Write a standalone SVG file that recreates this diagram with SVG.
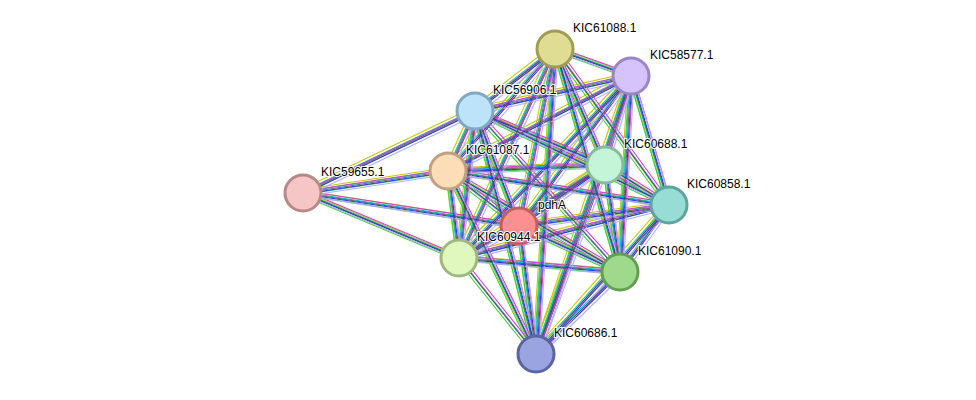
<svg xmlns="http://www.w3.org/2000/svg" xmlns:xlink="http://www.w3.org/1999/xlink" width="976" height="400" viewBox="0 0 976 400">
<style>
.n circle{stroke-width:3}
.n text{font-family:"Liberation Sans",Arial,sans-serif;font-size:12px;fill:#000;stroke:#fff;stroke-width:2px;paint-order:stroke}
</style>
<defs>
<g id="E" fill="none">
<line x1="555" y1="49" x2="631" y2="76"/><line x1="555" y1="49" x2="475" y2="111"/><line x1="555" y1="49" x2="605" y2="165"/><line x1="555" y1="49" x2="448" y2="171"/><line x1="555" y1="49" x2="669" y2="205"/><line x1="555" y1="49" x2="519" y2="226"/><line x1="555" y1="49" x2="459" y2="258"/><line x1="555" y1="49" x2="620" y2="272"/><line x1="555" y1="49" x2="536" y2="354"/>
<line x1="631" y1="76" x2="475" y2="111"/><line x1="631" y1="76" x2="605" y2="165"/><line x1="631" y1="76" x2="448" y2="171"/><line x1="631" y1="76" x2="669" y2="205"/><line x1="631" y1="76" x2="519" y2="226"/><line x1="631" y1="76" x2="459" y2="258"/><line x1="631" y1="76" x2="620" y2="272"/><line x1="631" y1="76" x2="536" y2="354"/>
<line x1="475" y1="111" x2="605" y2="165"/><line x1="475" y1="111" x2="448" y2="171"/><line x1="475" y1="111" x2="669" y2="205"/><line x1="475" y1="111" x2="519" y2="226"/><line x1="475" y1="111" x2="459" y2="258"/><line x1="475" y1="111" x2="620" y2="272"/><line x1="475" y1="111" x2="536" y2="354"/><line x1="475" y1="111" x2="303" y2="193"/>
<line x1="605" y1="165" x2="448" y2="171"/><line x1="605" y1="165" x2="669" y2="205"/><line x1="605" y1="165" x2="519" y2="226"/><line x1="605" y1="165" x2="459" y2="258"/><line x1="605" y1="165" x2="620" y2="272"/><line x1="605" y1="165" x2="536" y2="354"/>
<line x1="448" y1="171" x2="669" y2="205"/><line x1="448" y1="171" x2="519" y2="226"/><line x1="448" y1="171" x2="459" y2="258"/><line x1="448" y1="171" x2="620" y2="272"/><line x1="448" y1="171" x2="536" y2="354"/><line x1="448" y1="171" x2="303" y2="193"/>
<line x1="303" y1="193" x2="519" y2="226"/><line x1="303" y1="193" x2="459" y2="258"/>
<line x1="669" y1="205" x2="519" y2="226"/><line x1="669" y1="205" x2="459" y2="258"/><line x1="669" y1="205" x2="620" y2="272"/><line x1="669" y1="205" x2="536" y2="354"/>
<line x1="519" y1="226" x2="459" y2="258"/><line x1="519" y1="226" x2="620" y2="272"/><line x1="519" y1="226" x2="536" y2="354"/>
<line x1="459" y1="258" x2="620" y2="272"/><line x1="459" y1="258" x2="536" y2="354"/>
<line x1="620" y1="272" x2="536" y2="354"/>
</g>
</defs>
<rect width="976" height="400" fill="#fff"/>
<g id="connectors" stroke-width="1.1">
<use xlink:href="#E" stroke="#c8c800" transform="translate(-3,-3)"/>
<use xlink:href="#E" stroke="#3dd13d" transform="translate(-2,2)"/>
<use xlink:href="#E" stroke="#00c8c8" transform="translate(-1,-1)"/>
<use xlink:href="#E" stroke="#3030ff" transform="translate(1,1)"/>
<use xlink:href="#E" stroke="#d040d0" transform="translate(2,-2)"/>
<use xlink:href="#E" stroke="#b0b0f0" transform="translate(3,3)"/>
<use xlink:href="#E" stroke="#444" transform="translate(0,0)" stroke-width="0.8"/>
</g>
<g id="KIC61088" class="n"><circle cx="555" cy="49" r="18" fill="#dfdc93" stroke="#a09c50"/><text x="573" y="32">KIC61088.1</text></g>
<g id="KIC58577" class="n"><circle cx="631" cy="76" r="18" fill="#d4c4fb" stroke="#9a86c4"/><text x="650" y="59">KIC58577.1</text></g>
<g id="KIC56906" class="n"><circle cx="475" cy="111" r="18" fill="#bde3fa" stroke="#80a8c0"/><text x="493" y="94">KIC56906.1</text></g>
<g id="KIC60688" class="n"><circle cx="605" cy="165" r="18" fill="#c4f5d9" stroke="#88bb9c"/><text x="624" y="148">KIC60688.1</text></g>
<g id="KIC61087" class="n"><circle cx="448" cy="171" r="18" fill="#fddcb8" stroke="#c0a080"/><text x="466" y="154">KIC61087.1</text></g>
<g id="KIC59655" class="n"><circle cx="303" cy="193" r="18" fill="#f6c6c6" stroke="#b88888"/><text x="321" y="176">KIC59655.1</text></g>
<g id="KIC60858" class="n"><circle cx="669" cy="205" r="18" fill="#97ddd5" stroke="#5fa49c"/><text x="687" y="188">KIC60858.1</text></g>
<g id="pdhA" class="n"><circle cx="519" cy="226" r="18" fill="#fc9090" stroke="#c06060"/><text x="538" y="209">pdhA</text></g>
<g id="KIC60944" class="n"><circle cx="459" cy="258" r="18" fill="#e0f8be" stroke="#a0b880"/><text x="477" y="241">KIC60944.1</text></g>
<g id="KIC61090" class="n"><circle cx="620" cy="272" r="18" fill="#9ed98c" stroke="#60a050"/><text x="638" y="255">KIC61090.1</text></g>
<g id="KIC60686" class="n"><circle cx="536" cy="354" r="18" fill="#9aa4e0" stroke="#5a64a0"/><text x="554" y="337">KIC60686.1</text></g>
</svg>
